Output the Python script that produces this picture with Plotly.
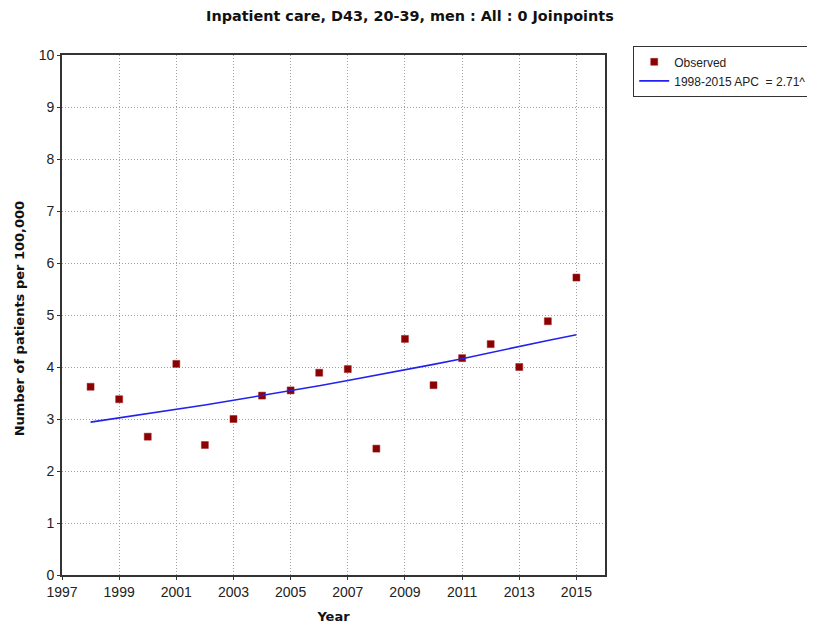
import plotly.graph_objects as go

years = [1998, 1999, 2000, 2001, 2002, 2003, 2004, 2005, 2006, 2007, 2008,
         2009, 2010, 2011, 2012, 2013, 2014, 2015]
observed = [3.62, 3.38, 2.66, 4.06, 2.50, 3.00, 3.45, 3.55, 3.89, 3.96, 2.43,
            4.54, 3.65, 4.17, 4.44, 4.00, 4.88, 5.72]
modeled = [2.94, 3.02, 3.10, 3.18, 3.27, 3.36, 3.45, 3.55, 3.64, 3.74, 3.84,
           3.95, 4.05, 4.16, 4.28, 4.39, 4.51, 4.62]
x_ticks = [1997, 1999, 2001, 2003, 2005, 2007, 2009, 2011, 2013, 2015]
y_ticks = [0, 1, 2, 3, 4, 5, 6, 7, 8, 9, 10]

bold_ff = "DejaVu Sans, Verdana, sans-serif"
reg_ff = "Liberation Sans, Arial, sans-serif"

fig = go.Figure()
fig.add_trace(go.Scatter(
    x=years, y=observed, mode="markers", name="Observed",
    marker=dict(symbol="square", size=7, color="#8B0000",
                line=dict(color="#A02020", width=0.5)),
))
fig.add_trace(go.Scatter(
    x=years, y=modeled, mode="lines", name="1998-2015 APC  = 2.71^",
    line=dict(color="#2222EE", width=1.6),
))

axis_common = dict(
    showline=True, linecolor="#333333", linewidth=1.6, mirror=True,
    showgrid=True, gridcolor="#a0a0a0", griddash="1px,2px", gridwidth=1,
    ticks="outside", ticklen=3, tickcolor="#333333",
    tickfont=dict(family=reg_ff, size=14, color="#222222"),
    zeroline=False, automargin=False,
)

fig.update_layout(
    width=807, height=620,
    margin=dict(l=54, r=210, t=47, b=53, autoexpand=False),
    paper_bgcolor="white", plot_bgcolor="white",
    title=dict(text="<b>Inpatient care, D43, 20-39, men : All : 0 Joinpoints</b>",
               x=0.498, xanchor="center", y=0.987, yanchor="middle",
               font=dict(family=bold_ff, size=14.4, color="#111111")),
    xaxis=dict(range=[1997, 2016], tickvals=x_ticks,
               title=dict(text="<b>Year</b>", standoff=13,
                          font=dict(family=bold_ff, size=13, color="#111111")),
               **axis_common),
    yaxis=dict(range=[0, 10], tickvals=y_ticks, **axis_common),
    legend=dict(x=1.0516, y=1.017, xanchor="left", yanchor="top",
                bordercolor="#333333", borderwidth=1.2, bgcolor="white",
                font=dict(family=reg_ff, size=12, color="#222222"),
                tracegroupgap=0, itemwidth=30, entrywidth=170),
    showlegend=True,
    annotations=[dict(
        text="<b>Number of patients per 100,000</b>",
        xref="paper", yref="paper", x=-0.079, y=0.492,
        xanchor="center", yanchor="middle", textangle=-90, showarrow=False,
        font=dict(family=bold_ff, size=13, color="#111111"),
    )],
)

fig.write_html("out.html")
